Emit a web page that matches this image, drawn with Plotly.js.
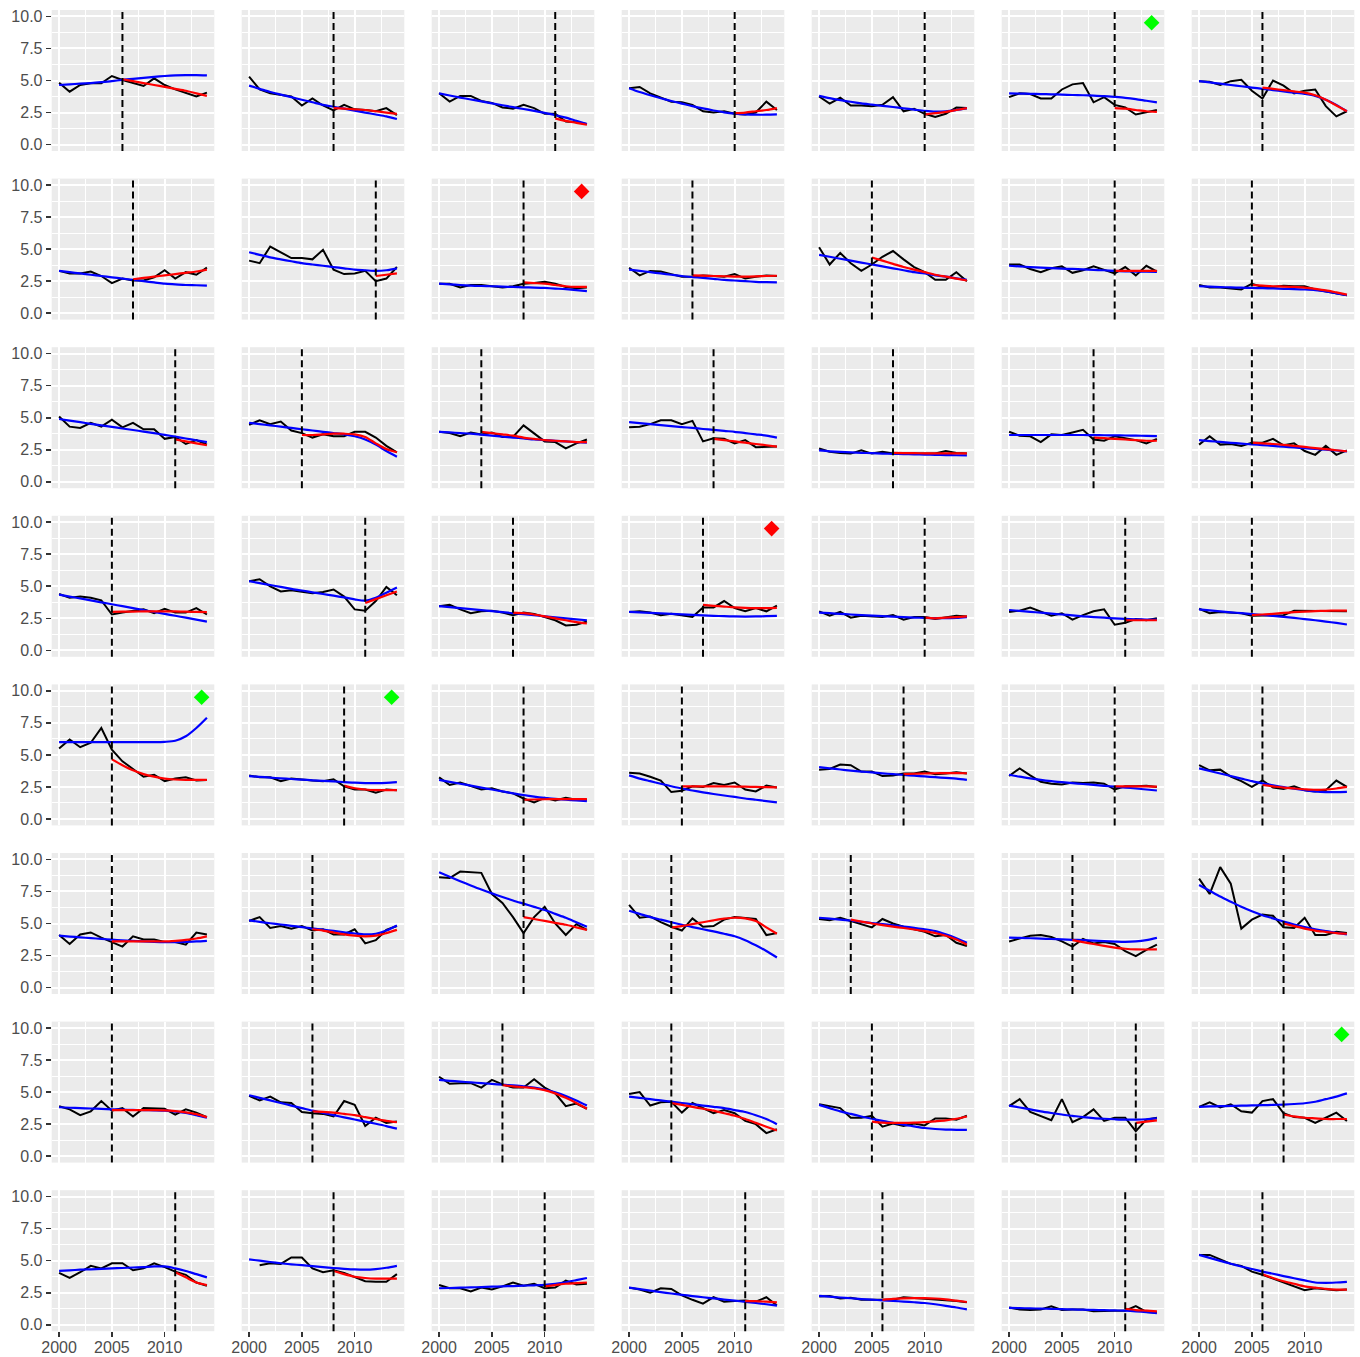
<!DOCTYPE html>
<html><head><meta charset="utf-8">
<script src="https://cdn.plot.ly/plotly-3.0.1.min.js"></script>
<style>html,body{margin:0;padding:0;background:#fff}#chart{width:1360px;height:1357px}</style>
</head><body><div id="chart"></div>
<script>
const years = [2000,2001,2002,2003,2004,2005,2006,2007,2008,2009,2010,2011,2012,2013,2014];
const breakYears = [
 2006,2008,2011,2010,2010,2010,2006,
 2007,2012,2008,2006,2005,2010,2005,
 2011,2005,2004,2008,2007,2008,2005,
 2005,2011,2007,2007,2010,2011,2005,
 2005,2009,2008,2005,2008,2010,2006,
 2005,2006,2008,2004,2003,2006,2008,
 2005,2006,2006,2004,2005,2012,2008,
 2011,2008,2010,2011,2006,2011,2006];
const blackSeries = [
 [4.83,4.13,4.65,4.78,4.78,5.35,5.04,4.83,4.57,5.17,4.65,4.31,4.0,3.75,4.05],
 [5.3,4.3,4.0,3.9,3.75,3.05,3.6,3.05,2.66,3.1,2.75,2.7,2.6,2.85,2.3],
 [4.0,3.35,3.8,3.8,3.4,3.25,2.9,2.8,3.1,2.85,2.4,2.4,1.8,1.75,1.6],
 [4.4,4.5,4.0,3.7,3.35,3.3,3.1,2.6,2.5,2.6,2.4,2.35,2.5,3.35,2.7],
 [3.75,3.2,3.65,3.05,3.05,3.0,3.1,3.7,2.6,2.8,2.4,2.15,2.4,2.9,2.85],
 [3.7,4.0,3.95,3.6,3.6,4.3,4.7,4.8,3.3,3.7,3.1,2.9,2.35,2.5,2.7],
 [4.95,4.9,4.65,4.95,5.05,4.2,3.6,5.0,4.6,4.0,4.2,4.3,3.0,2.2,2.6],
 [3.3,3.1,3.1,3.25,2.9,2.35,2.7,2.55,2.55,2.8,3.35,2.7,3.2,3.0,3.55],
 [4.1,3.9,5.2,4.75,4.3,4.3,4.2,4.95,3.4,3.05,3.1,3.3,2.5,2.7,3.6],
 [2.3,2.3,2.0,2.2,2.2,2.1,2.0,2.1,2.3,2.35,2.45,2.3,2.05,1.95,2.0],
 [3.55,2.95,3.3,3.25,3.05,2.85,2.85,2.95,2.9,2.85,3.05,2.7,2.85,2.95,2.9],
 [5.15,3.8,4.7,3.9,3.3,3.8,4.4,4.85,4.2,3.6,3.2,2.6,2.6,3.2,2.5],
 [3.8,3.8,3.45,3.2,3.5,3.65,3.15,3.35,3.65,3.4,3.1,3.6,2.95,3.7,3.25],
 [2.2,2.0,2.0,1.95,1.85,2.3,2.05,2.05,2.15,2.1,2.1,1.85,1.7,1.55,1.4],
 [5.1,4.3,4.2,4.6,4.3,4.85,4.25,4.6,4.1,4.1,3.35,3.5,2.95,3.25,2.9],
 [4.45,4.8,4.5,4.7,4.0,3.8,3.45,3.7,3.55,3.55,3.9,3.9,3.45,2.8,2.3],
 [3.9,3.8,3.55,3.85,3.7,3.85,3.5,3.5,4.4,3.8,3.15,3.1,2.6,3.0,3.3],
 [4.25,4.3,4.5,4.8,4.8,4.5,4.75,3.15,3.4,3.35,3.0,3.25,2.7,2.75,2.75],
 [2.6,2.35,2.25,2.2,2.45,2.2,2.35,2.2,2.2,2.2,2.2,2.2,2.4,2.25,2.2],
 [3.9,3.6,3.55,3.1,3.7,3.65,3.85,4.05,3.3,3.2,3.55,3.4,3.25,3.0,3.35],
 [2.9,3.55,2.9,2.95,2.8,3.05,3.05,3.35,2.85,3.0,2.4,2.1,2.8,2.1,2.45],
 [4.4,4.1,4.2,4.1,3.9,2.8,2.95,3.05,3.2,2.9,3.25,2.95,2.95,3.3,2.8],
 [5.4,5.55,5.0,4.6,4.7,4.55,4.45,4.55,4.75,4.2,3.2,3.1,3.85,4.95,4.3],
 [3.45,3.55,3.2,2.9,3.05,3.1,2.95,2.75,2.95,2.85,2.6,2.35,1.95,2.0,2.25],
 [3.0,3.05,2.95,2.75,2.85,2.75,2.6,3.35,3.35,3.85,3.3,3.05,3.3,3.05,3.5],
 [3.05,2.7,3.0,2.55,2.7,2.65,2.6,2.75,2.4,2.6,2.6,2.45,2.55,2.7,2.65],
 [3.0,3.1,3.35,3.0,2.7,2.9,2.4,2.75,3.05,3.2,2.0,2.15,2.45,2.35,2.5],
 [3.25,2.9,3.0,2.95,2.9,2.7,2.7,2.7,2.75,3.1,3.1,3.05,3.05,3.1,3.05],
 [5.5,6.2,5.6,5.95,7.1,5.4,4.5,3.9,3.3,3.45,2.95,3.15,3.25,3.0,3.05],
 [3.4,3.25,3.25,2.95,3.15,3.05,3.0,2.95,3.1,2.55,2.3,2.3,2.05,2.3,2.25],
 [3.25,2.65,2.85,2.6,2.3,2.4,2.15,2.0,1.6,1.3,1.65,1.45,1.65,1.5,1.5],
 [3.6,3.55,3.3,3.0,2.1,2.2,2.55,2.5,2.8,2.65,2.85,2.3,2.15,2.6,2.45],
 [3.85,3.9,4.25,4.2,3.7,3.7,3.35,3.4,3.55,3.55,3.7,3.5,3.55,3.65,3.55],
 [3.35,3.95,3.4,2.9,2.75,2.7,2.85,2.8,2.85,2.75,2.3,2.55,2.55,2.6,2.5],
 [4.2,3.8,3.85,3.3,2.95,2.5,3.0,2.45,2.35,2.55,2.25,2.15,2.25,3.0,2.5],
 [4.1,3.4,4.15,4.3,3.9,3.55,3.2,4.0,3.75,3.75,3.55,3.55,3.35,4.3,4.15],
 [5.2,5.5,4.65,4.8,4.6,4.8,4.45,4.55,4.15,4.15,4.55,3.45,3.7,4.5,4.8],
 [8.6,8.55,9.05,9.0,8.95,7.3,6.6,5.5,4.25,5.5,6.3,5.0,4.1,4.95,4.5],
 [6.45,5.45,5.55,5.1,4.75,4.45,5.4,4.75,4.8,5.3,5.5,5.45,5.35,4.1,4.25],
 [5.35,5.25,5.45,5.2,5.0,4.7,5.35,5.0,4.75,4.55,4.35,4.0,4.1,3.5,3.25],
 [3.6,3.8,4.05,4.1,3.95,3.6,3.2,3.8,3.45,3.55,3.4,2.85,2.45,2.95,3.35],
 [8.5,7.3,9.4,8.1,4.6,5.3,5.7,5.6,4.7,4.65,5.45,4.1,4.1,4.35,4.25],
 [3.9,3.65,3.2,3.5,4.3,3.55,3.75,3.1,3.75,3.75,3.7,3.25,3.65,3.4,3.05],
 [4.7,4.35,4.65,4.2,4.15,3.45,3.35,3.3,3.1,4.3,4.0,2.35,3.0,2.6,2.7],
 [6.2,5.65,5.7,5.7,5.35,5.95,5.6,5.35,5.35,6.0,5.35,4.9,3.9,4.1,3.7],
 [4.85,5.0,3.95,4.2,4.25,3.4,4.15,3.75,3.35,3.6,3.35,2.75,2.5,1.8,2.1],
 [4.05,3.9,3.75,3.0,3.0,3.15,2.3,2.55,2.35,2.55,2.4,2.95,2.95,2.85,3.15],
 [3.9,4.45,3.45,3.1,2.8,4.45,2.65,3.05,3.65,2.75,3.0,3.0,1.95,2.85,3.0],
 [3.85,4.2,3.8,4.05,3.5,3.4,4.3,4.45,3.35,3.05,3.0,2.6,3.0,3.4,2.75],
 [4.05,3.65,4.1,4.6,4.4,4.8,4.8,4.25,4.4,4.8,4.5,4.15,3.9,3.3,3.05],
 [null,4.65,4.8,4.75,5.25,5.25,4.4,4.1,4.25,4.05,3.7,3.4,3.35,3.35,3.95],
 [3.1,2.85,2.85,2.6,2.9,2.75,3.0,3.3,3.05,3.2,2.85,2.9,3.45,3.15,3.2],
 [2.9,2.75,2.5,2.85,2.8,2.3,1.95,1.65,2.15,1.8,1.85,1.9,1.8,2.15,1.5],
 [2.2,2.25,2.05,2.1,1.95,1.95,1.95,1.95,2.15,2.1,2.05,2.0,1.95,1.85,1.75],
 [1.35,1.2,1.15,1.2,1.45,1.15,1.2,1.2,1.05,1.1,1.1,1.1,1.45,1.0,0.95],
 [5.45,5.45,5.1,4.75,4.6,4.15,3.9,3.6,3.35,3.05,2.7,2.85,2.8,2.7,2.75]];
const blueSeries = [
 [4.65,4.7,4.75,4.8,4.87,4.95,5.05,5.13,5.2,5.28,5.35,5.4,5.42,5.42,5.4],
 [4.6,4.35,4.1,3.9,3.7,3.5,3.3,3.1,2.95,2.8,2.65,2.5,2.35,2.2,2.0],
 [4.0,3.83,3.67,3.52,3.37,3.22,3.07,2.92,2.78,2.63,2.47,2.3,2.1,1.85,1.6],
 [4.4,4.1,3.85,3.62,3.4,3.2,3.0,2.82,2.66,2.52,2.42,2.36,2.33,2.33,2.35],
 [3.8,3.62,3.47,3.34,3.22,3.12,3.02,2.93,2.83,2.73,2.63,2.57,2.6,2.7,2.82],
 [4.0,3.98,3.96,3.94,3.92,3.9,3.87,3.85,3.82,3.78,3.72,3.65,3.55,3.42,3.3],
 [4.95,4.85,4.75,4.65,4.55,4.45,4.35,4.25,4.15,4.05,3.95,3.8,3.5,3.1,2.6],
 [3.3,3.2,3.1,3.0,2.9,2.8,2.7,2.6,2.5,2.4,2.3,2.25,2.2,2.18,2.15],
 [4.75,4.55,4.35,4.2,4.05,3.9,3.8,3.7,3.6,3.5,3.4,3.35,3.3,3.35,3.5],
 [2.3,2.25,2.2,2.15,2.12,2.1,2.07,2.05,2.02,2.0,1.97,1.92,1.87,1.8,1.72],
 [3.4,3.3,3.2,3.1,3.0,2.9,2.82,2.75,2.68,2.6,2.55,2.5,2.45,2.42,2.4],
 [4.55,4.4,4.25,4.1,3.95,3.8,3.65,3.5,3.35,3.2,3.1,2.95,2.85,2.72,2.6],
 [3.7,3.65,3.6,3.56,3.52,3.48,3.45,3.42,3.38,3.35,3.3,3.27,3.25,3.24,3.22],
 [2.1,2.07,2.04,2.01,1.99,1.97,1.95,1.93,1.9,1.88,1.85,1.8,1.7,1.55,1.4],
 [4.9,4.77,4.65,4.52,4.4,4.28,4.16,4.04,3.92,3.8,3.66,3.52,3.38,3.24,3.1],
 [4.6,4.5,4.4,4.3,4.2,4.1,4.0,3.9,3.8,3.7,3.55,3.3,2.9,2.4,1.95],
 [3.9,3.85,3.8,3.75,3.68,3.6,3.52,3.45,3.38,3.3,3.25,3.2,3.15,3.1,3.05],
 [4.65,4.57,4.5,4.42,4.35,4.27,4.2,4.12,4.05,3.97,3.9,3.8,3.7,3.6,3.45],
 [2.45,2.38,2.33,2.29,2.26,2.23,2.2,2.18,2.16,2.14,2.12,2.1,2.08,2.07,2.05],
 [3.65,3.65,3.65,3.65,3.65,3.65,3.65,3.65,3.64,3.63,3.62,3.61,3.6,3.58,3.57],
 [3.25,3.18,3.11,3.04,2.98,2.92,2.86,2.8,2.74,2.68,2.62,2.56,2.5,2.44,2.38],
 [4.35,4.2,4.05,3.9,3.75,3.6,3.45,3.3,3.15,3.0,2.85,2.7,2.55,2.4,2.25],
 [5.4,5.25,5.1,4.95,4.8,4.67,4.53,4.4,4.27,4.13,3.98,3.88,4.1,4.5,4.9],
 [3.45,3.38,3.3,3.22,3.14,3.06,2.98,2.9,2.82,2.74,2.66,2.58,2.5,2.42,2.35],
 [3.0,2.97,2.93,2.89,2.85,2.81,2.77,2.73,2.7,2.67,2.65,2.64,2.65,2.67,2.7],
 [2.95,2.9,2.85,2.8,2.75,2.71,2.67,2.63,2.59,2.56,2.53,2.51,2.51,2.54,2.6],
 [3.15,3.08,3.01,2.94,2.87,2.8,2.73,2.66,2.6,2.55,2.5,2.46,2.43,2.41,2.4],
 [3.2,3.12,3.04,2.97,2.9,2.83,2.76,2.69,2.61,2.53,2.44,2.35,2.25,2.14,2.02],
 [6.0,6.0,6.0,6.0,6.0,6.0,6.0,6.0,6.0,6.0,6.02,6.1,6.45,7.1,7.9],
 [3.35,3.29,3.23,3.17,3.12,3.07,3.02,2.98,2.93,2.88,2.83,2.8,2.8,2.82,2.87],
 [3.05,2.9,2.75,2.6,2.45,2.3,2.15,2.0,1.87,1.75,1.65,1.57,1.5,1.45,1.4],
 [3.4,3.15,2.95,2.75,2.55,2.38,2.22,2.08,1.95,1.83,1.72,1.6,1.5,1.4,1.3],
 [4.05,3.95,3.86,3.78,3.7,3.63,3.56,3.5,3.44,3.38,3.32,3.26,3.2,3.15,3.05],
 [3.45,3.3,3.17,3.05,2.95,2.87,2.8,2.73,2.66,2.59,2.52,2.45,2.38,2.3,2.22],
 [3.95,3.75,3.55,3.35,3.15,2.95,2.78,2.62,2.48,2.36,2.25,2.15,2.1,2.1,2.12],
 [4.05,3.98,3.92,3.86,3.8,3.74,3.69,3.64,3.6,3.57,3.55,3.55,3.57,3.6,3.65],
 [5.25,5.13,5.02,4.92,4.82,4.72,4.62,4.52,4.42,4.32,4.22,4.15,4.2,4.45,4.85],
 [9.0,8.65,8.3,7.97,7.65,7.35,7.07,6.8,6.55,6.3,6.05,5.75,5.45,5.1,4.75],
 [6.0,5.75,5.5,5.3,5.1,4.9,4.72,4.55,4.38,4.2,4.0,3.7,3.3,2.85,2.35],
 [5.45,5.38,5.3,5.22,5.13,5.04,4.95,4.86,4.76,4.66,4.55,4.4,4.15,3.85,3.5],
 [3.9,3.88,3.85,3.82,3.79,3.76,3.73,3.7,3.66,3.62,3.59,3.57,3.6,3.7,3.88],
 [8.0,7.55,7.1,6.7,6.3,5.95,5.65,5.4,5.15,4.92,4.72,4.55,4.4,4.28,4.15],
 [3.82,3.78,3.75,3.72,3.69,3.66,3.63,3.61,3.6,3.58,3.55,3.48,3.38,3.2,3.0],
 [4.75,4.55,4.35,4.15,3.95,3.75,3.55,3.38,3.2,3.03,2.86,2.7,2.53,2.35,2.15],
 [5.95,5.88,5.82,5.76,5.7,5.64,5.58,5.52,5.45,5.35,5.2,4.98,4.7,4.35,3.95],
 [4.65,4.55,4.45,4.35,4.25,4.15,4.05,3.95,3.85,3.75,3.6,3.45,3.2,2.9,2.5],
 [4.0,3.75,3.5,3.3,3.1,2.92,2.75,2.6,2.45,2.32,2.2,2.12,2.08,2.06,2.05],
 [3.95,3.8,3.65,3.5,3.37,3.25,3.15,3.05,2.97,2.92,2.88,2.85,2.85,2.88,2.95],
 [3.85,3.88,3.9,3.92,3.94,3.96,3.98,4.0,4.03,4.07,4.13,4.25,4.45,4.65,4.9],
 [4.2,4.25,4.3,4.33,4.37,4.4,4.43,4.47,4.5,4.55,4.55,4.4,4.2,3.95,3.7],
 [5.1,5.0,4.9,4.8,4.72,4.65,4.57,4.5,4.43,4.37,4.32,4.3,4.35,4.45,4.6],
 [2.85,2.87,2.9,2.92,2.94,2.97,3.0,3.02,3.05,3.08,3.12,3.2,3.32,3.48,3.65],
 [2.9,2.78,2.66,2.55,2.44,2.34,2.24,2.15,2.06,1.97,1.88,1.79,1.7,1.6,1.5],
 [2.25,2.19,2.13,2.07,2.01,1.96,1.91,1.86,1.81,1.76,1.7,1.6,1.48,1.35,1.2],
 [1.32,1.3,1.28,1.26,1.24,1.22,1.2,1.18,1.16,1.14,1.12,1.1,1.05,0.98,0.9],
 [5.45,5.22,4.99,4.76,4.55,4.35,4.15,3.98,3.8,3.63,3.46,3.3,3.27,3.3,3.35]];
const redSeries = [
 [5.1,4.95,4.8,4.65,4.5,4.35,4.2,4.0,3.8],
 [2.85,2.8,2.75,2.7,2.6,2.5,2.4],
 [2.05,1.85,1.7,1.55],
 [2.45,2.5,2.6,2.7,2.85],
 [2.35,2.45,2.55,2.7,2.85],
 [2.85,2.8,2.7,2.6,2.55],
 [4.45,4.35,4.25,4.15,4.05,3.85,3.5,3.05,2.6],
 [2.65,2.75,2.85,2.95,3.05,3.15,3.25,3.4],
 [2.9,3.0,3.1],
 [2.4,2.35,2.3,2.2,2.1,2.05,2.05],
 [2.95,2.93,2.9,2.88,2.86,2.85,2.87,2.9,2.92],
 [4.35,4.1,3.85,3.6,3.4,3.2,3.0,2.85,2.7,2.55],
 [3.3,3.3,3.3,3.3,3.3],
 [2.2,2.15,2.1,2.08,2.05,2.0,1.9,1.78,1.62,1.45],
 [3.3,3.15,3.0,2.85],
 [3.65,3.65,3.7,3.75,3.75,3.7,3.5,3.0,2.55,2.3],
 [3.9,3.8,3.7,3.6,3.45,3.35,3.25,3.2,3.15,3.1,3.1],
 [3.35,3.25,3.15,3.05,2.95,2.85,2.75],
 [2.25,2.24,2.23,2.22,2.22,2.21,2.21,2.21],
 [3.45,3.4,3.35,3.3,3.25,3.2,3.2],
 [3.05,3.0,2.95,2.88,2.8,2.72,2.63,2.55,2.46,2.38],
 [3.0,3.02,3.03,3.04,3.05,3.05,3.04,3.02,3.0,2.98],
 [3.7,4.0,4.3,4.6],
 [2.95,2.9,2.8,2.65,2.5,2.35,2.2,2.1],
 [3.55,3.48,3.42,3.36,3.32,3.3,3.3,3.32],
 [2.55,2.5,2.55,2.6,2.65],
 [2.35,2.35,2.35,2.35],
 [2.75,2.8,2.85,2.92,2.98,3.03,3.07,3.09,3.1,3.1],
 [4.65,4.2,3.8,3.5,3.3,3.15,3.08,3.05,3.05,3.05],
 [2.6,2.4,2.3,2.25,2.25,2.25],
 [1.5,1.52,1.54,1.55,1.55,1.55,1.55],
 [2.55,2.55,2.55,2.55,2.54,2.53,2.52,2.5,2.48,2.46],
 [3.5,3.53,3.55,3.57,3.58,3.58,3.57],
 [2.55,2.55,2.55,2.55,2.52],
 [2.65,2.55,2.45,2.38,2.32,2.28,2.3,2.38,2.5],
 [3.6,3.6,3.6,3.6,3.6,3.6,3.65,3.72,3.83,4.0],
 [4.55,4.45,4.3,4.15,4.05,4.0,4.05,4.25,4.5],
 [5.5,5.35,5.2,5.05,4.9,4.7,4.5],
 [4.7,4.8,4.95,5.1,5.25,5.38,5.45,5.4,5.2,4.7,4.2],
 [5.3,5.15,5.0,4.88,4.76,4.65,4.53,4.4,4.25,4.05,3.75,3.35],
 [3.7,3.55,3.4,3.25,3.12,3.03,2.98,2.97,2.98],
 [5.0,4.8,4.6,4.45,4.35,4.25,4.2],
 [3.6,3.6,3.6,3.6,3.6,3.58,3.52,3.42,3.28,3.05],
 [3.5,3.45,3.4,3.3,3.2,3.05,2.9,2.75,2.65],
 [5.55,5.45,5.38,5.3,5.15,4.9,4.55,4.15,3.7],
 [4.15,4.0,3.85,3.7,3.55,3.35,3.15,2.9,2.6,2.3,2.0],
 [2.7,2.62,2.6,2.6,2.62,2.65,2.72,2.8,2.92,3.1],
 [2.6,2.7,2.8],
 [3.25,3.1,3.0,2.95,2.9,2.9,2.9],
 [4.1,3.7,3.3,3.1],
 [4.2,3.95,3.75,3.65,3.6,3.6,3.6],
 [3.0,3.1,3.2,3.25,3.3],
 [1.85,1.85,1.8,1.75],
 [1.95,2.02,2.06,2.08,2.08,2.05,1.98,1.88,1.78],
 [1.25,1.15,1.1,1.05],
 [3.95,3.65,3.4,3.2,3.0,2.9,2.8,2.75,2.75]];
const flagPanels = [5, 9, 24, 28, 29, 48];
const flagColors = ['#00FF00','#FF0000','#FF0000','#00FF00','#00FF00','#00FF00'];
const flagYear = 2013.5;
const flagValue = 9.5;
const xTickVals = [2000, 2005, 2010];
const xMinorVals = [2002.5, 2007.5, 2012.5];
const yTickVals = [0, 2.5, 5, 7.5, 10];
const yTickText = ['0.0', '2.5', '5.0', '7.5', '10.0'];
const yMinorVals = [1.25, 3.75, 6.25, 8.75];

const W = 1360, H = 1357, NC = 7, NR = 8;
const left0 = 51.7, pitchX = 190, pw = 162.6;
const top0 = 10, pitchY = 168.6, ph = 141;

const traces = [];
const shapes = [];
const layout = {
  width: W, height: H,
  margin: {l: 0, r: 0, t: 0, b: 0},
  paper_bgcolor: '#FFFFFF', plot_bgcolor: '#EBEBEB',
  showlegend: false, hovermode: false,
  font: {family: 'Liberation Sans, Arial, sans-serif', size: 16, color: '#4D4D4D'}
};

for (let i = 0; i < NC * NR; i++) {
  const r = Math.floor(i / NC), c = i % NC, n = i + 1;
  const xs = n === 1 ? 'x' : 'x' + n, ys = n === 1 ? 'y' : 'y' + n;
  const xk = n === 1 ? 'xaxis' : 'xaxis' + n, yk = n === 1 ? 'yaxis' : 'yaxis' + n;
  const xl = left0 + pitchX * c, yt = top0 + pitchY * r;
  layout[xk] = {
    domain: [xl / W, (xl + pw) / W], anchor: ys,
    range: [1999.3, 2014.7], tickmode: 'array', tickvals: xTickVals,
    showticklabels: r === NR - 1, ticks: r === NR - 1 ? 'outside' : '',
    ticklen: 5, tickwidth: 1.6, tickcolor: '#333333', ticklabelstandoff: -3,
    showgrid: true, gridcolor: '#FFFFFF', gridwidth: 2,
    minor: {tickmode: 'array', tickvals: xMinorVals, showgrid: true, gridcolor: '#FFFFFF', gridwidth: 1, ticks: ''},
    zeroline: false, showline: false, fixedrange: true,
    tickfont: {size: 16, color: '#4D4D4D'}
  };
  layout[yk] = {
    domain: [1 - (yt + ph) / H, 1 - yt / H], anchor: xs,
    range: [-0.5, 10.5], tickmode: 'array', tickvals: yTickVals, ticktext: yTickText,
    showticklabels: c === 0, ticks: c === 0 ? 'outside' : '',
    ticklen: 5, tickwidth: 1.6, tickcolor: '#333333',
    showgrid: true, gridcolor: '#FFFFFF', gridwidth: 2,
    minor: {tickmode: 'array', tickvals: yMinorVals, showgrid: true, gridcolor: '#FFFFFF', gridwidth: 1, ticks: ''},
    zeroline: false, showline: false, fixedrange: true,
    tickfont: {size: 16, color: '#4D4D4D'}
  };
  traces.push({x: years, y: blackSeries[i], xaxis: xs, yaxis: ys, mode: 'lines',
    line: {color: '#000000', width: 2}, connectgaps: false});
  traces.push({x: years, y: blueSeries[i], xaxis: xs, yaxis: ys, mode: 'lines',
    line: {color: '#0000FF', width: 2.2, shape: 'spline', smoothing: 0.8}});
  const b = breakYears[i];
  const rx = years.filter(v => v >= b);
  traces.push({x: rx, y: redSeries[i], xaxis: xs, yaxis: ys, mode: 'lines',
    line: {color: '#FF0000', width: 2.2, shape: 'spline', smoothing: 0.8}});
  const fi = flagPanels.indexOf(i);
  if (fi >= 0) {
    traces.push({x: [flagYear], y: [flagValue], xaxis: xs, yaxis: ys, mode: 'markers',
      marker: {symbol: 'diamond', size: 12, color: flagColors[fi], line: {width: 0}}});
  }
  shapes.push({type: 'line', xref: xs, yref: ys + ' domain', x0: b, x1: b, y0: 0, y1: 1,
    line: {color: '#000000', width: 2, dash: '7px,4px'}, layer: 'above'});
}
layout.shapes = shapes;
Plotly.newPlot('chart', traces, layout, {staticPlot: true, displayModeBar: false});
</script>
</body></html>
